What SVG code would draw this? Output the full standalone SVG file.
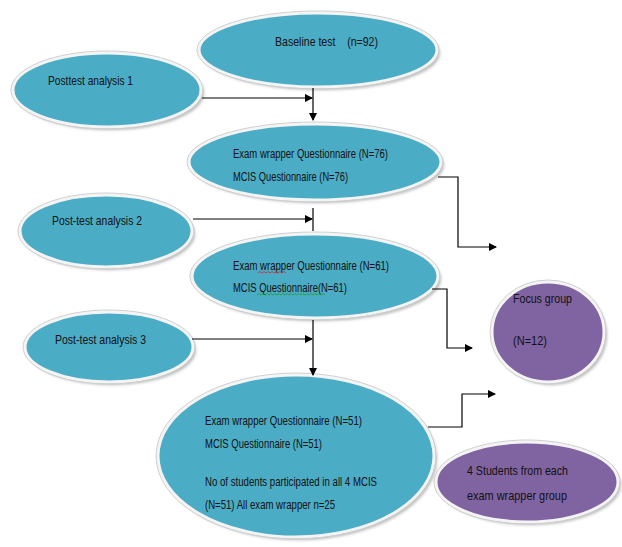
<svg xmlns="http://www.w3.org/2000/svg" width="622" height="547" viewBox="0 0 622 547">
<defs>
<filter id="sh" x="-10%" y="-10%" width="130%" height="130%"><feGaussianBlur stdDeviation="1.5"/></filter>
<marker id="ah" markerWidth="8" markerHeight="8" refX="7" refY="4" orient="auto" markerUnits="userSpaceOnUse"><path d="M0,0 L8,4 L0,8 z" fill="#000"/></marker>
</defs>
<style>
.shd{fill:#a9a9a9;filter:url(#sh);opacity:0.8}
.teal{fill:#4BACC6;stroke:#f4f4f4;stroke-width:3}
.purp{fill:#8064A2;stroke:#f4f4f4;stroke-width:3}
.rim{fill:none;stroke:#cfcfcf;stroke-width:1}
text{font-family:"Liberation Sans",Arial,sans-serif;font-size:13.5px;fill:#111}
.c{fill:none;stroke:#000;stroke-width:1.2}
.sq{fill:none;stroke-width:0.8}
</style>
<rect width="622" height="547" fill="#fff"/>
<g id="baseline">
<ellipse class="shd" cx="321" cy="53" rx="119" ry="37"/>
<ellipse class="teal" cx="318" cy="50" rx="119" ry="37"/>
<ellipse class="rim" cx="318" cy="50" rx="121" ry="39"/>
<text x="275" y="46" textLength="103" lengthAdjust="spacingAndGlyphs" xml:space="preserve">Baseline test    (n=92)</text>
</g>
<g id="posttest1">
<ellipse class="shd" cx="110" cy="93" rx="94" ry="37"/>
<ellipse class="teal" cx="107" cy="90" rx="94" ry="37"/>
<ellipse class="rim" cx="107" cy="90" rx="96" ry="39"/>
<text x="48" y="85" textLength="85" lengthAdjust="spacingAndGlyphs">Posttest analysis 1</text>
</g>
<g id="exam76">
<ellipse class="shd" cx="318" cy="165" rx="126" ry="38"/>
<ellipse class="teal" cx="315" cy="162" rx="126" ry="38"/>
<ellipse class="rim" cx="315" cy="162" rx="128" ry="40"/>
<text x="233" y="158" textLength="155" lengthAdjust="spacingAndGlyphs">Exam wrapper Questionnaire (N=76)</text>
<text x="233" y="181" textLength="115" lengthAdjust="spacingAndGlyphs">MCIS Questionnaire (N=76)</text>
</g>
<g id="posttest2">
<ellipse class="shd" cx="109" cy="234" rx="86" ry="36"/>
<ellipse class="teal" cx="106" cy="231" rx="86" ry="36"/>
<ellipse class="rim" cx="106" cy="231" rx="88" ry="38"/>
<text x="52" y="225" textLength="90" lengthAdjust="spacingAndGlyphs">Post-test analysis 2</text>
</g>
<g id="exam61">
<ellipse class="shd" cx="318" cy="279" rx="123" ry="42"/>
<ellipse class="teal" cx="315" cy="276" rx="123" ry="42"/>
<ellipse class="rim" cx="315" cy="276" rx="125" ry="44"/>
<text x="233" y="270" textLength="156" lengthAdjust="spacingAndGlyphs">Exam wrapper Questionnaire (N=61)</text>
<text x="233" y="292" textLength="114" lengthAdjust="spacingAndGlyphs">MCIS Questionnaire(N=61)</text>
<path class="sq" stroke="#e02020" d="M258,273 l2,-1.5 l2,1.5 l2,-1.5 l2,1.5 l2,-1.5 l2,1.5 l2,-1.5 l2,1.5 l2,-1.5 l2,1.5 l2,-1.5 l2,1.5 l2,-1.5 l2,1.5"/>
<path class="sq" stroke="#20a020" d="M257,295 l2,-1.5 l2,1.5 l2,-1.5 l2,1.5 l2,-1.5 l2,1.5 l2,-1.5 l2,1.5 l2,-1.5 l2,1.5 l2,-1.5 l2,1.5 l2,-1.5 l2,1.5 l2,-1.5 l2,1.5 l2,-1.5 l2,1.5 l2,-1.5 l2,1.5 l2,-1.5 l2,1.5 l2,-1.5 l2,1.5 l2,-1.5 l2,1.5 l2,-1.5 l2,1.5 l2,-1.5 l2,1.5 l2,-1.5 l2,1.5 l2,-1.5 l2,1.5"/>
</g>
<g id="posttest3">
<ellipse class="shd" cx="112" cy="350" rx="84" ry="35"/>
<ellipse class="teal" cx="109" cy="347" rx="84" ry="35"/>
<ellipse class="rim" cx="109" cy="347" rx="86" ry="37"/>
<text x="55" y="344" textLength="91" lengthAdjust="spacingAndGlyphs">Post-test analysis 3</text>
</g>
<g id="exam51">
<ellipse class="shd" cx="299" cy="459" rx="138" ry="81"/>
<ellipse class="teal" cx="296" cy="456" rx="138" ry="81"/>
<ellipse class="rim" cx="296" cy="456" rx="140" ry="83"/>
<text x="205" y="425" textLength="157" lengthAdjust="spacingAndGlyphs">Exam wrapper Questionnaire (N=51)</text>
<text x="205" y="448" textLength="117" lengthAdjust="spacingAndGlyphs">MCIS Questionnaire (N=51)</text>
<text x="205" y="486" textLength="172" lengthAdjust="spacingAndGlyphs">No of students participated  in all 4 MCIS</text>
<text x="205" y="509" textLength="130" lengthAdjust="spacingAndGlyphs">(N=51) All exam wrapper n=25</text>
</g>
<g id="focus">
<ellipse class="shd" cx="551" cy="335" rx="56" ry="50"/>
<ellipse class="purp" cx="548" cy="332" rx="56" ry="50"/>
<ellipse class="rim" cx="548" cy="332" rx="58" ry="52"/>
<text x="513" y="303" textLength="59" lengthAdjust="spacingAndGlyphs">Focus group</text>
<text x="513" y="345" textLength="34" lengthAdjust="spacingAndGlyphs">(N=12)</text>
</g>
<g id="students">
<ellipse class="shd" cx="530" cy="485" rx="91" ry="40"/>
<ellipse class="purp" cx="527" cy="482" rx="91" ry="40"/>
<ellipse class="rim" cx="527" cy="482" rx="93" ry="42"/>
<text x="467" y="475" textLength="101" lengthAdjust="spacingAndGlyphs">4 Students from each</text>
<text x="467" y="500" textLength="100" lengthAdjust="spacingAndGlyphs">exam wrapper group</text>
</g>
<g id="connectors">
<path class="c" d="M313,88 V120" marker-end="url(#ah)"/>
<path class="c" d="M202,98 H312" marker-end="url(#ah)"/>
<path class="c" d="M313,208 V231"/>
<path class="c" d="M193,219 H312" marker-end="url(#ah)"/>
<path class="c" d="M313,320 V375" marker-end="url(#ah)"/>
<path class="c" d="M192,339 H312" marker-end="url(#ah)"/>
<path class="c" d="M438,177 H458 V247 H496" marker-end="url(#ah)"/>
<path class="c" d="M432,289 H447 V348 H472" marker-end="url(#ah)"/>
<path class="c" d="M428,427 H462 V394 H495" marker-end="url(#ah)"/>
</g>
</svg>
